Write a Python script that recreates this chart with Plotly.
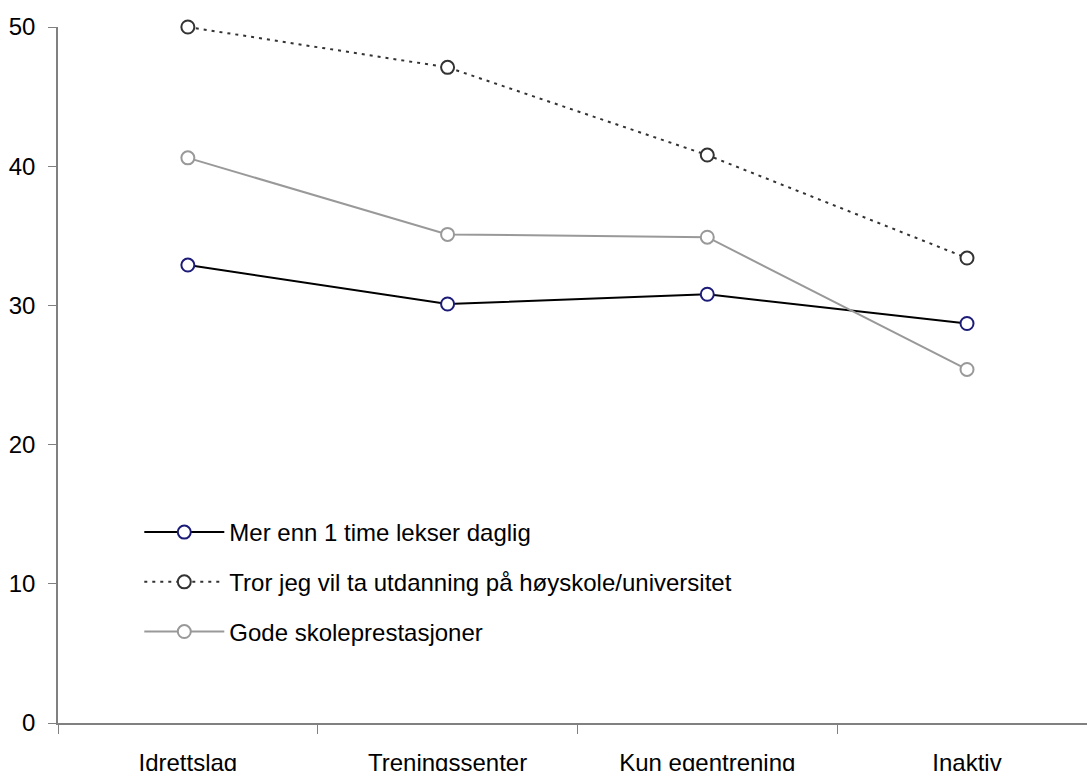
import plotly.graph_objects as go

categories = ["Idrettslag", "Treningssenter", "Kun egentrening", "Inaktiv"]
lekser = [32.9, 30.1, 30.8, 28.7]
utdanning = [50.0, 47.1, 40.8, 33.4]
skoleprest = [40.6, 35.1, 34.9, 25.4]

names = ["Mer enn 1 time lekser daglig",
         "Tror jeg vil ta utdanning på høyskole/universitet",
         "Gode skoleprestasjoner"]

FONT = "Liberation Sans, Arial, sans-serif"
FS = 24

fig = go.Figure()
fig.add_trace(go.Scatter(
    x=categories, y=lekser, name=names[0], mode="lines+markers",
    line=dict(color="#000000", width=2),
    marker=dict(symbol="circle", size=13, color="white",
                line=dict(color="#1c1c78", width=2)),
    cliponaxis=False, legendgroup="a"))
fig.add_trace(go.Scatter(
    x=categories, y=utdanning, name=names[1], mode="lines+markers",
    line=dict(color="#333333", width=2, dash="3px,5px"),
    marker=dict(symbol="circle", size=13, color="white",
                line=dict(color="#333333", width=2)),
    cliponaxis=False, legendgroup="b"))
fig.add_trace(go.Scatter(
    x=categories, y=skoleprest, name=names[2], mode="lines+markers",
    line=dict(color="#999999", width=2),
    marker=dict(symbol="circle", size=13, color="white",
                line=dict(color="#999999", width=2)),
    cliponaxis=False, legendgroup="c"))

fig.update_layout(
    width=1087, height=771,
    margin=dict(l=58, r=0, t=27, b=48),
    plot_bgcolor="white", paper_bgcolor="white",
    font=dict(family=FONT, size=FS, color="#000000"),
    showlegend=True,
    legend=dict(x=0.079, y=0.306, xanchor="left", yanchor="top",
                bgcolor="rgba(0,0,0,0)", tracegroupgap=15.5,
                font=dict(family=FONT, size=FS), itemwidth=80),
    xaxis=dict(
        type="category", range=[-0.5, 3.462], automargin=False,
        showline=True, linecolor="#808080", linewidth=1.5,
        ticks="outside", tickson="boundaries", ticklen=9, tickcolor="#808080",
        showgrid=False, zeroline=False,
        tickfont=dict(family=FONT, size=FS), ticklabelstandoff=17),
    yaxis=dict(
        range=[0, 50], tickvals=[0, 10, 20, 30, 40, 50], automargin=False,
        showline=True, linecolor="#808080", linewidth=1.5,
        ticks="outside", ticklen=8, tickcolor="#808080",
        showgrid=False, zeroline=False,
        tickfont=dict(family=FONT, size=FS), ticklabelstandoff=8),
)

fig.write_html("out.html", config={"displayModeBar": False},
               post_script="document.body.style.margin='0';document.body.style.overflow='hidden';")
